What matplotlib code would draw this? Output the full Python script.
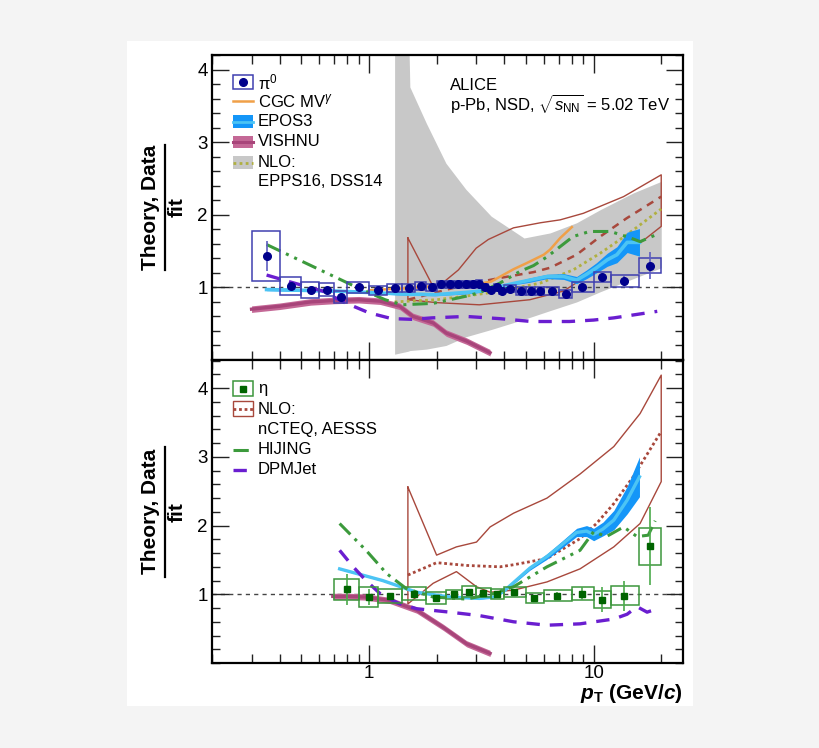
import numpy as np
import matplotlib
matplotlib.use("Agg")
import matplotlib.pyplot as plt
from matplotlib.patches import Rectangle
from matplotlib.lines import Line2D
from matplotlib.ticker import FixedLocator, LogLocator, NullFormatter, MultipleLocator, FixedFormatter

plt.rcParams['font.family'] = ['Liberation Sans', 'DejaVu Sans']
plt.rcParams['mathtext.fontset'] = 'custom'
plt.rcParams['mathtext.rm'] = 'Liberation Sans'
plt.rcParams['mathtext.it'] = 'Liberation Sans:italic'
plt.rcParams['mathtext.bf'] = 'Liberation Sans:bold'
plt.rcParams['mathtext.bfit'] = 'Liberation Sans:italic:bold'

# ---------------- data: pi0 ----------------
pi0_lo = [0.3, 0.4, 0.5, 0.6, 0.7, 0.8, 1.0, 1.2, 1.4, 1.6, 1.8, 2.0, 2.2, 2.4, 2.6, 2.8, 3.0, 3.2, 3.4, 3.6,
          3.8, 4.0, 4.5, 5.0, 5.5, 6.0, 7.0, 8.0, 10.0, 12.0, 16.0]
pi0_hi = [0.4, 0.5, 0.6, 0.7, 0.8, 1.0, 1.2, 1.4, 1.6, 1.8, 2.0, 2.2, 2.4, 2.6, 2.8, 3.0, 3.2, 3.4, 3.6, 3.8,
          4.0, 4.5, 5.0, 5.5, 6.0, 7.0, 8.0, 10.0, 12.0, 16.0, 20.0]
pi0_pt = [0.35, 0.45, 0.55, 0.65, 0.75, 0.9, 1.1, 1.3, 1.5, 1.7, 1.9, 2.1, 2.3, 2.5, 2.7, 2.9, 3.1, 3.3, 3.5, 3.7,
          3.9, 4.25, 4.75, 5.25, 5.75, 6.5, 7.5, 8.9, 10.9, 13.7, 17.8]
pi0_val = [1.43, 1.02, 0.97, 0.97, 0.87, 1.00, 0.96, 0.99, 0.99, 1.02, 1.00, 1.04, 1.04, 1.04, 1.04, 1.04, 1.05,
           1.00, 0.97, 1.00, 0.95, 0.98, 0.95, 0.95, 0.95, 0.95, 0.91, 1.00, 1.14, 1.09, 1.30]
pi0_sys = [0.34, 0.12, 0.11, 0.095, 0.085, 0.08, 0.06, 0.05, 0.05, 0.05, 0.05, 0.045, 0.045, 0.045, 0.045, 0.045,
           0.045, 0.04, 0.04, 0.04, 0.04, 0.05, 0.05, 0.05, 0.05, 0.05, 0.06, 0.07, 0.07, 0.08, 0.105]
pi0_stat = [0.21, 0.02, 0.01, 0.01, 0.01, 0.01, 0.01, 0.01, 0.01, 0.01, 0.01, 0.01, 0.01, 0.01, 0.01, 0.01, 0.01,
            0.01, 0.01, 0.01, 0.01, 0.01, 0.01, 0.01, 0.01, 0.01, 0.02, 0.02, 0.03, 0.06, 0.19]

# ---------------- data: eta ----------------
eta_lo = [0.7, 0.9, 1.1, 1.4, 1.8, 2.2, 2.6, 3.0, 3.5, 4.0, 5.0, 6.0, 8.0, 10.0, 12.0, 16.0]
eta_hi = [0.9, 1.1, 1.4, 1.8, 2.2, 2.6, 3.0, 3.5, 4.0, 5.0, 6.0, 8.0, 10.0, 12.0, 16.0, 20.0]
eta_pt = [0.8, 1.0, 1.24, 1.58, 1.98, 2.38, 2.78, 3.23, 3.73, 4.44, 5.45, 6.84, 8.88, 10.9, 13.7, 17.8]
eta_val = [1.07, 0.96, 0.975, 1.01, 0.95, 1.00, 1.04, 1.02, 1.00, 1.03, 0.95, 0.98, 1.01, 0.92, 0.98, 1.70]
eta_sys = [0.155, 0.14, 0.105, 0.10, 0.085, 0.065, 0.085, 0.065, 0.07, 0.07, 0.07, 0.08, 0.10, 0.125, 0.14, 0.27]
eta_stat = [0.22, 0.11, 0.04, 0.04, 0.03, 0.03, 0.04, 0.03, 0.03, 0.03, 0.04, 0.05, 0.10, 0.18, 0.22, 0.57]

# ---------------- theory: top panel (pi0) ----------------
nlo_epps_pt = [1.3, 1.49, 1.52, 1.8, 2.2, 2.7, 3.5, 4.9, 6.4, 8.4, 10.7, 15.0, 20.0]
nlo_epps_hi = [5.0, 5.0, 3.76, 3.26, 2.71, 2.35, 1.98, 1.68, 1.75, 1.89, 2.07, 2.30, 2.46]
nlo_epps_lo = [0.08, 0.12, 0.13, 0.15, 0.20, 0.32, 0.42, 0.56, 0.68, 0.80, 0.94, 1.12, 1.27]
nlo_epps_c_pt = [1.3, 2.0, 2.7, 3.5, 4.5, 5.8, 8.1, 10.7, 14.0, 20.0]
nlo_epps_c = [0.80, 0.83, 0.88, 0.93, 0.99, 1.06, 1.24, 1.47, 1.72, 2.08]

ncteq_pi0_up_pt = [1.49, 1.96, 2.5, 3.0, 3.4, 4.4, 5.8, 7.1, 9.0, 13.6, 20.0]
ncteq_pi0_up = [1.68, 0.97, 1.24, 1.54, 1.66, 1.82, 1.89, 1.93, 2.02, 2.25, 2.55]
ncteq_pi0_dn_pt = [1.49, 2.0, 3.1, 5.2, 7.35, 10.3, 16.1, 20.0]
ncteq_pi0_dn = [0.83, 0.79, 0.76, 0.83, 0.95, 1.24, 1.61, 1.84]
ncteq_pi0_c_pt = [1.49, 1.93, 2.72, 3.83, 5.4, 6.4, 8.4, 10.7, 14.0, 20.0]
ncteq_pi0_c = [0.83, 0.92, 1.04, 1.13, 1.21, 1.27, 1.45, 1.70, 1.95, 2.25]

cgc_pt = [1.0, 1.5, 2.0, 2.5, 3.1, 3.5, 4.4, 5.0, 6.0, 6.4, 7.1, 8.0]
cgc_val = [0.96, 0.99, 1.02, 1.04, 1.05, 1.08, 1.25, 1.33, 1.45, 1.52, 1.68, 1.83]

epos_pi0_pt = [0.35, 0.5, 0.7, 1.0, 1.4, 1.97, 2.7, 3.12, 3.8, 4.5, 5.2, 6.2, 7.35, 8.4, 9.3, 10.3, 11.5,
               12.7, 14.1, 16.0]
epos_pi0_val = [0.97, 0.96, 0.95, 0.93, 0.91, 0.90, 0.93, 0.95, 1.01, 1.06, 1.10, 1.15, 1.15, 1.10, 1.18, 1.27,
                1.38, 1.45, 1.62, 1.62]
epos_pi0_err = [0.015, 0.015, 0.015, 0.015, 0.015, 0.015, 0.02, 0.02, 0.02, 0.02, 0.03, 0.03, 0.04, 0.05, 0.06,
                0.07, 0.09, 0.11, 0.14, 0.19]

vishnu_pi0_pt = [0.3, 0.4, 0.55, 0.7, 0.9, 1.12, 1.37, 1.57, 1.93, 2.21, 2.72, 3.46]
vishnu_pi0_val = [0.70, 0.74, 0.80, 0.82, 0.83, 0.81, 0.74, 0.60, 0.51, 0.37, 0.26, 0.10]

hijing_pi0_pt = [0.35, 0.87, 1.18, 1.4, 1.93, 2.72, 3.12, 3.83, 4.7, 5.4, 6.2, 8.1, 9.6, 11.9, 14.6, 16.1, 18.8]
hijing_pi0_val = [1.59, 1.01, 0.83, 0.76, 0.78, 0.88, 0.93, 1.06, 1.22, 1.30, 1.42, 1.70, 1.77, 1.77, 1.68,
                  1.63, 1.72]

dpmjet_pi0_pt = [0.35, 0.44, 0.62, 0.78, 1.0, 1.26, 1.55, 1.9, 2.7, 3.8, 5.3, 7.8, 10.0, 12.3, 15.0, 19.2]
dpmjet_pi0_val = [1.17, 1.08, 0.95, 0.79, 0.65, 0.57, 0.56, 0.58, 0.60, 0.57, 0.53, 0.53, 0.55, 0.58, 0.62, 0.67]

# ---------------- theory: bottom panel (eta) ----------------
ncteq_eta_up_pt = [1.49, 2.0, 2.45, 3.01, 3.46, 4.4, 6.2, 8.7, 12.3, 16.1, 20.0]
ncteq_eta_up = [2.56, 1.57, 1.69, 1.76, 1.98, 2.18, 2.40, 2.75, 3.15, 3.63, 4.19]
ncteq_eta_dn_pt = [1.49, 1.93, 2.45, 3.01, 3.46, 4.4, 6.2, 8.7, 12.3, 16.1, 20.0]
ncteq_eta_dn = [0.86, 1.16, 1.33, 1.11, 1.03, 1.06, 1.18, 1.37, 1.69, 2.03, 2.64]
ncteq_eta_c_pt = [1.49, 2.0, 2.72, 3.83, 4.4, 6.2, 8.7, 10.3, 12.3, 15.0, 20.0]
ncteq_eta_c = [1.28, 1.46, 1.42, 1.40, 1.43, 1.52, 1.81, 2.03, 2.32, 2.71, 3.37]

epos_eta_pt = [0.74, 1.15, 1.63, 2.29, 3.1, 3.6, 4.0, 4.4, 5.2, 6.2, 7.2, 8.4, 9.3, 10.0, 11.0, 12.3, 14.1, 16.0]
epos_eta_val = [1.37, 1.20, 1.03, 0.96, 0.94, 0.96, 1.05, 1.17, 1.38, 1.55, 1.72, 1.90, 1.92, 1.87, 1.95, 2.08,
                2.37, 2.71]
epos_eta_err = [0.01, 0.01, 0.01, 0.01, 0.01, 0.01, 0.015, 0.02, 0.03, 0.04, 0.05, 0.06, 0.08, 0.09, 0.10, 0.14,
                0.2, 0.29]

vishnu_eta_pt = [0.69, 0.8, 0.97, 1.24, 1.63, 2.14, 2.72, 3.46]
vishnu_eta_val = [0.97, 0.97, 0.96, 0.91, 0.77, 0.52, 0.28, 0.14]

hijing_eta_pt = [0.74, 0.97, 1.2, 1.47, 1.93, 2.72, 3.58, 4.4, 6.2, 8.7, 10.0, 11.4, 13.6, 15.6, 17.5, 18.8]
hijing_eta_val = [2.03, 1.64, 1.30, 1.08, 0.96, 0.93, 1.01, 1.11, 1.40, 1.64, 1.91, 1.84, 1.98, 1.84, 1.86, 2.07]

dpmjet_eta_pt = [0.74, 0.85, 0.97, 1.12, 1.35, 1.63, 2.29, 3.1, 4.4, 6.2, 8.7, 12.3, 14.1, 15.6, 17.3, 18.8]
dpmjet_eta_val = [1.64, 1.40, 1.20, 1.01, 0.87, 0.79, 0.74, 0.69, 0.60, 0.55, 0.57, 0.64, 0.71, 0.82, 0.74, 0.78]

# ---------------- styles ----------------
C_GRAY = '#c8c8c8'
C_ORANGE = '#f0a048'
C_EPOS_BAND = '#1496f8'
C_EPOS_LINE = '#4cc4f4'
C_VISH_BAND = '#c46896'
C_VISH_LINE = '#a8457a'
C_OLIVE = '#b0b040'
C_BROWN = '#a8483c'
C_GREEN = '#3c9a3c'
C_PURPLE = '#6a1ed0'
C_PI0_BOX = '#4040b0'
C_PI0_MK = '#00008c'
C_ETA_BOX = '#3c963c'
C_ETA_MK = '#006400'

HIJ_LS = (0, (5, 2, 1, 2, 1, 2))
DPM_LS = (0, (4, 3))

W, H = 820, 748
fig = plt.figure(figsize=(W / 100, H / 100), dpi=100, facecolor='#f4f4f4')


def fx(px):
    return px / W


def fy(py):
    return 1 - py / H


fig.add_artist(Rectangle((fx(127), fy(706)), (693 - 127) / W, (706 - 41) / H,
                         transform=fig.transFigure, facecolor='white', edgecolor='none', zorder=-5))

ax1 = fig.add_axes([fx(212), fy(360), (683 - 212) / W, (360 - 55) / H])
ax2 = fig.add_axes([fx(212), fy(663), (683 - 212) / W, (663 - 360) / H])

for ax, ytop in ((ax1, 4.2), (ax2, 4.41)):
    ax.set_xscale('log')
    ax.set_xlim(0.2, 25)
    ax.set_ylim(0, ytop)
    ax.yaxis.set_major_locator(FixedLocator([1, 2, 3, 4]))
    ax.yaxis.set_minor_locator(MultipleLocator(0.2))
    ax.xaxis.set_major_locator(FixedLocator([1, 10]))
    ax.xaxis.set_minor_locator(LogLocator(base=10, subs=np.arange(2, 10), numticks=20))
    ax.xaxis.set_minor_formatter(NullFormatter())
    ax.tick_params(which='both', direction='in', top=True, right=True, width=1.0, color='#222222')
    ax.tick_params(axis='y', which='major', length=12, labelsize=13.5, pad=3)
    ax.tick_params(axis='y', which='minor', length=6)
    ax.tick_params(axis='x', which='major', length=13, labelsize=13.5, pad=1.5)
    ax.tick_params(axis='x', which='minor', length=6.5)
    for s in ax.spines.values():
        s.set_linewidth(1.6)
    ax.axhline(1.0, color='#444444', lw=1.0, ls=(0, (3, 3)), zorder=1)

ax1.xaxis.set_major_formatter(NullFormatter())
ax2.xaxis.set_major_formatter(FixedFormatter(['1', '10']))

# ---------- top panel ----------
ax1.fill_between(nlo_epps_pt, nlo_epps_lo, nlo_epps_hi, color=C_GRAY, lw=0, zorder=0.5)
ax1.plot(ncteq_pi0_up_pt + ncteq_pi0_dn_pt[::-1] + ncteq_pi0_up_pt[:1],
         ncteq_pi0_up + ncteq_pi0_dn[::-1] + ncteq_pi0_up[:1], color=C_BROWN, lw=1.0, zorder=2)
ax1.plot(ncteq_pi0_c_pt, ncteq_pi0_c, color=C_BROWN, lw=1.8, ls=(0, (3, 2.5)), zorder=2)
ax1.plot(nlo_epps_c_pt, nlo_epps_c, color=C_OLIVE, lw=2.0, ls=(0, (1, 1.2)), zorder=2)
ax1.plot(cgc_pt, cgc_val, color=C_ORANGE, lw=1.8, zorder=2)
e_lo = np.array(epos_pi0_val) - np.array(epos_pi0_err)
e_hi = np.array(epos_pi0_val) + np.array(epos_pi0_err)
ax1.fill_between(epos_pi0_pt, e_lo, e_hi, color=C_EPOS_BAND, lw=0, zorder=2)
ax1.plot(epos_pi0_pt, epos_pi0_val, color=C_EPOS_LINE, lw=2.6, zorder=2.1)
ax1.fill_between(vishnu_pi0_pt, np.array(vishnu_pi0_val) - 0.045, np.array(vishnu_pi0_val) + 0.045,
                 color=C_VISH_BAND, lw=0, zorder=2)
ax1.plot(vishnu_pi0_pt, vishnu_pi0_val, color=C_VISH_LINE, lw=2.4, zorder=2.1)
ax1.plot(hijing_pi0_pt, hijing_pi0_val, color=C_GREEN, lw=2.2, ls=HIJ_LS, zorder=2.2)
ax1.plot(dpmjet_pi0_pt, dpmjet_pi0_val, color=C_PURPLE, lw=2.4, ls=DPM_LS, zorder=2.2)

pl = np.array(pi0_lo)
ph = np.array(pi0_hi)
pv = np.array(pi0_val)
ps = np.array(pi0_sys)
ax1.bar(pl, 2 * ps, width=ph - pl, bottom=pv - ps, align='edge', fill=False,
        edgecolor=C_PI0_BOX, linewidth=1.1, zorder=3)
ax1.errorbar(pi0_pt, pi0_val, yerr=pi0_stat, fmt='o', ms=5.5, color=C_PI0_MK, ecolor='#5c5cc0',
             elinewidth=1.2, capsize=0, zorder=4)

# ---------- bottom panel ----------
ax2.plot(ncteq_eta_up_pt + ncteq_eta_dn_pt[::-1] + ncteq_eta_up_pt[:1],
         ncteq_eta_up + ncteq_eta_dn[::-1] + ncteq_eta_up[:1], color=C_BROWN, lw=1.0, zorder=2)
ax2.plot(ncteq_eta_c_pt, ncteq_eta_c, color=C_BROWN, lw=2.0, ls=(0, (1, 1)), zorder=2)
e2_lo = np.array(epos_eta_val) - np.array(epos_eta_err)
e2_hi = np.array(epos_eta_val) + np.array(epos_eta_err)
ax2.fill_between(epos_eta_pt, e2_lo, e2_hi, color=C_EPOS_BAND, lw=0, zorder=2)
ax2.plot(epos_eta_pt, epos_eta_val, color=C_EPOS_LINE, lw=2.4, zorder=2.1)
ax2.fill_between(vishnu_eta_pt, np.array(vishnu_eta_val) - 0.045, np.array(vishnu_eta_val) + 0.045,
                 color=C_VISH_BAND, lw=0, zorder=2)
ax2.plot(vishnu_eta_pt, vishnu_eta_val, color=C_VISH_LINE, lw=2.4, zorder=2.1)
ax2.plot(hijing_eta_pt, hijing_eta_val, color=C_GREEN, lw=2.2, ls=HIJ_LS, zorder=2.2)
ax2.plot(dpmjet_eta_pt, dpmjet_eta_val, color=C_PURPLE, lw=2.4, ls=DPM_LS, zorder=2.2)

el = np.array(eta_lo)
eh = np.array(eta_hi)
ev = np.array(eta_val)
es = np.array(eta_sys)
ax2.bar(el, 2 * es, width=eh - el, bottom=ev - es, align='edge', fill=False,
        edgecolor=C_ETA_BOX, linewidth=1.1, zorder=3)
ax2.errorbar(eta_pt, eta_val, yerr=eta_stat, fmt='s', ms=5, color=C_ETA_MK, ecolor='#4caa4c',
             elinewidth=1.2, capsize=0, zorder=4)

# ---------- legends (drawn in figure pixel space) ----------
LFS = 12
TX = 258


def leg_text(py, s):
    fig.text(fx(TX), fy(py), s, fontsize=LFS, ha='left', va='center')


def leg_box(py, h, **kw):
    fig.add_artist(Rectangle((fx(233), fy(py + h / 2)), 20 / W, h / H, transform=fig.transFigure, **kw))


def leg_line(py, **kw):
    fig.add_artist(Line2D([fx(233), fx(253)], [fy(py), fy(py)], transform=fig.transFigure, **kw))


# top legend
leg_box(82, 14, fill=False, edgecolor=C_PI0_BOX, lw=1.1)
fig.add_artist(Line2D([fx(243)], [fy(82)], transform=fig.transFigure, marker='o', ms=5.5, color=C_PI0_MK, ls='none'))
leg_text(82, 'π$^{0}$')
leg_line(101, color=C_ORANGE, lw=1.8)
leg_text(101, 'CGC MV$^{\\gamma}$')
leg_box(121.5, 13, facecolor=C_EPOS_BAND, edgecolor='none')
leg_line(121.5, color=C_EPOS_LINE, lw=2.0)
leg_text(121.5, 'EPOS3')
leg_box(142, 12, facecolor=C_VISH_BAND, edgecolor='none')
leg_line(142, color=C_VISH_LINE, lw=2.2)
leg_text(142, 'VISHNU')
leg_box(162.5, 13, facecolor=C_GRAY, edgecolor='none')
leg_line(162.5, color=C_OLIVE, lw=2.0, ls=(0, (1, 1.2)))
leg_text(162.5, 'NLO:')
leg_text(181, 'EPPS16, DSS14')

# bottom legend
leg_box(388.5, 15, fill=False, edgecolor=C_ETA_BOX, lw=1.1)
fig.add_artist(Line2D([fx(243)], [fy(388.5)], transform=fig.transFigure, marker='s', ms=5, color=C_ETA_MK, ls='none'))
leg_text(389, 'η')
leg_box(409, 15, fill=False, edgecolor=C_BROWN, lw=1.0)
leg_line(409, color=C_BROWN, lw=2.0, ls=(0, (1, 1)))
leg_text(409, 'NLO:')
leg_text(429.5, 'nCTEQ, AESSS')
leg_line(450, color=C_GREEN, lw=2.2, ls=HIJ_LS)
leg_text(450, 'HIJING')
leg_line(469.5, color=C_PURPLE, lw=2.4, ls=DPM_LS)
leg_text(469.5, 'DPMJet')

# ALICE label
fig.text(fx(450), fy(90.5), 'ALICE', fontsize=LFS, ha='left', va='baseline')
fig.text(fx(450), fy(111.5), r'p-Pb, NSD, $\sqrt{s_{\mathrm{NN}}}$ = 5.02 TeV', fontsize=LFS,
         ha='left', va='baseline')

# y-axis fraction labels
for yc, y0, y1 in ((207.5, 145, 270), (511.7, 446.7, 576.7)):
    fig.text(fx(150.5), fy(yc), 'Theory, Data', rotation=90, fontsize=15, fontweight='bold',
             ha='center', va='center')
    fig.text(fx(177.5), fy(yc), 'fit', rotation=90, fontsize=15, fontweight='bold', ha='center', va='center')
    fig.add_artist(Line2D([fx(165), fx(165)], [fy(y0), fy(y1)], transform=fig.transFigure, color='black', lw=1.6))

# x-axis label
fig.text(fx(683), fy(699), r'$\mathbfit{p}_{\mathbf{T}}$ (GeV/$\mathbfit{c}$)', fontsize=15, fontweight='bold',
         ha='right', va='baseline')

fig.savefig('out.png', dpi=100, facecolor=fig.get_facecolor())
